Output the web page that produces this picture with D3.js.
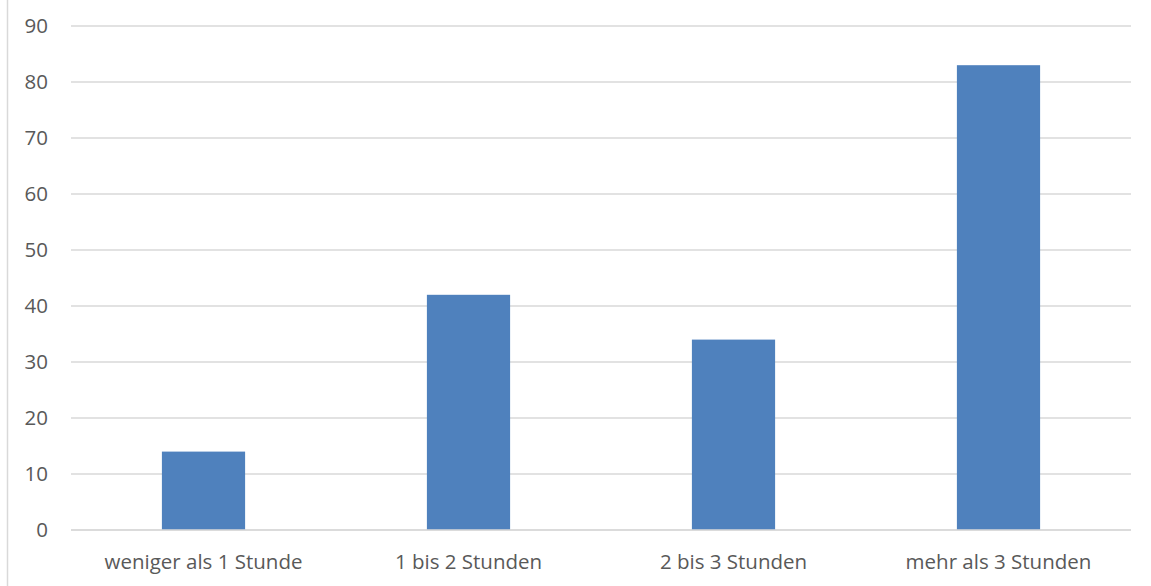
<!DOCTYPE html>
<html><head><meta charset="utf-8">
<script src="https://cdn.jsdelivr.net/npm/d3@7"></script>
<style>body{margin:0;background:#fff}svg{display:block}</style>
</head><body>
<script>
const categories = ["weniger als 1 Stunde", "1 bis 2 Stunden", "2 bis 3 Stunden", "mehr als 3 Stunden"];
const values = [14, 42, 34, 83];
const yTicks = [0, 10, 20, 30, 40, 50, 60, 70, 80, 90];

const W = 1151, H = 586;
const svg = d3.select("body").append("svg").attr("width", W).attr("height", H);
const font = "'Open Sans', 'Noto Sans', sans-serif";

// outer chart border (only left edge visible)
svg.append("line").attr("x1", 7.5).attr("x2", 7.5).attr("y1", 0).attr("y2", H)
  .attr("stroke", "#d9d9d9").attr("stroke-width", 1.5);

const x = d3.scaleBand().domain(categories).range([71, 1131]).paddingInner(0.686).paddingOuter(0.343);
const y = d3.scaleLinear().domain([0, 90]).range([530, 26]);

// gridlines
svg.append("g").selectAll("line").data(yTicks).join("line")
  .attr("x1", 71).attr("x2", 1131)
  .attr("y1", d => y(d)).attr("y2", d => y(d))
  .attr("stroke", "#d9d9d9").attr("stroke-width", 1.3);

// y labels
svg.append("g").selectAll("text").data(yTicks).join("text")
  .attr("x", 48).attr("y", d => y(d)).attr("dy", "0.36em")
  .attr("text-anchor", "end").attr("font-family", font).attr("font-size", 20.5)
  .attr("fill", "#595959").text(d => d);

// bars
svg.append("g").selectAll("rect").data(values).join("rect")
  .attr("x", (d, i) => x(categories[i])).attr("width", x.bandwidth())
  .attr("y", d => y(d)).attr("height", d => y(0) - y(d))
  .attr("fill", "#4f81bd");

// zero line on top
svg.append("line").attr("x1", 71).attr("x2", 1131).attr("y1", y(0)).attr("y2", y(0))
  .attr("stroke", "#d9d9d9").attr("stroke-width", 1.3);

// x labels
svg.append("g").selectAll("text").data(categories).join("text")
  .attr("x", d => x(d) + x.bandwidth() / 2).attr("y", 562).attr("dy", "0.36em")
  .attr("text-anchor", "middle").attr("font-family", font).attr("font-size", 20.5)
  .attr("fill", "#595959").text(d => d);
</script>
</body></html>
